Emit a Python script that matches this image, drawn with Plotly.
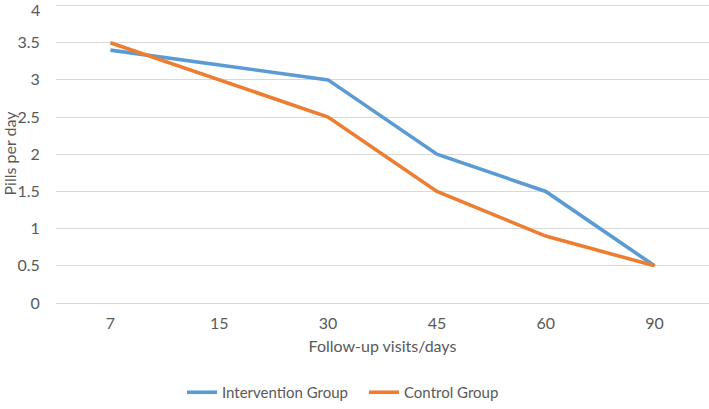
import plotly.graph_objects as go

days = ["7", "15", "30", "45", "60", "90"]
intervention = [3.4, 3.2, 3.0, 2.0, 1.5, 0.5]
control = [3.5, 3.0, 2.5, 1.5, 0.9, 0.5]

BLUE = "#5B9BD5"
ORANGE = "#ED7D31"
TEXT = "#595959"
GRID = "#D9D9D9"
CLEAR = "rgba(0,0,0,0)"
FONT = "Lato, Carlito, Calibri, sans-serif"

fig = go.Figure()
fig.add_trace(go.Scatter(x=days, y=intervention, name="Intervention Group",
                         mode="lines", line=dict(color=BLUE, width=3.6)))
fig.add_trace(go.Scatter(x=days, y=control, name="Control Group",
                         mode="lines", line=dict(color=ORANGE, width=3.6)))

fig.update_layout(
    width=709, height=409,
    paper_bgcolor="white", plot_bgcolor="white",
    font=dict(family=FONT, color=TEXT, size=16),
    margin=dict(l=56, r=0, t=4, b=100),
    legend=dict(orientation="h", xref="paper", x=(182 - 56) / 653, xanchor="left",
                y=-0.3, yanchor="middle", itemwidth=30,
                entrywidth=137, entrywidthmode="pixels",
                font=dict(size=15, color=TEXT)),
)
fig.update_xaxes(type="category", range=[-0.5, 5.5], showgrid=False,
                 showline=False, zeroline=False, automargin=False,
                 ticks="outside", ticklen=6, tickcolor=CLEAR,
                 title=dict(text="Follow-up visits/days", standoff=9,
                            font=dict(size=16, color=TEXT)))
fig.update_yaxes(range=[0, 4.02], dtick=0.5, tick0=0, gridcolor=GRID, gridwidth=1.3,
                 zeroline=True, zerolinecolor=GRID, zerolinewidth=1.3,
                 showline=False, ticks="outside", ticklen=12, tickcolor=CLEAR,
                 tickformat="~g", automargin=False,
                 title=dict(text="Pills per day", standoff=6,
                            font=dict(size=16, color=TEXT)))

# top tick label sits at the page edge, plotly drops it, so place it by hand
fig.add_annotation(x=0, xref="paper", y=4, yref="y", text="4", showarrow=False,
                   xanchor="right", yanchor="middle", xshift=-14, yshift=-4,
                   font=dict(size=16, color=TEXT))

# drop the browser's default 8px body margin so the chart fills the window
fig.write_html("out.html", config={"displayModeBar": False},
               post_script="document.body.style.margin='0';")
